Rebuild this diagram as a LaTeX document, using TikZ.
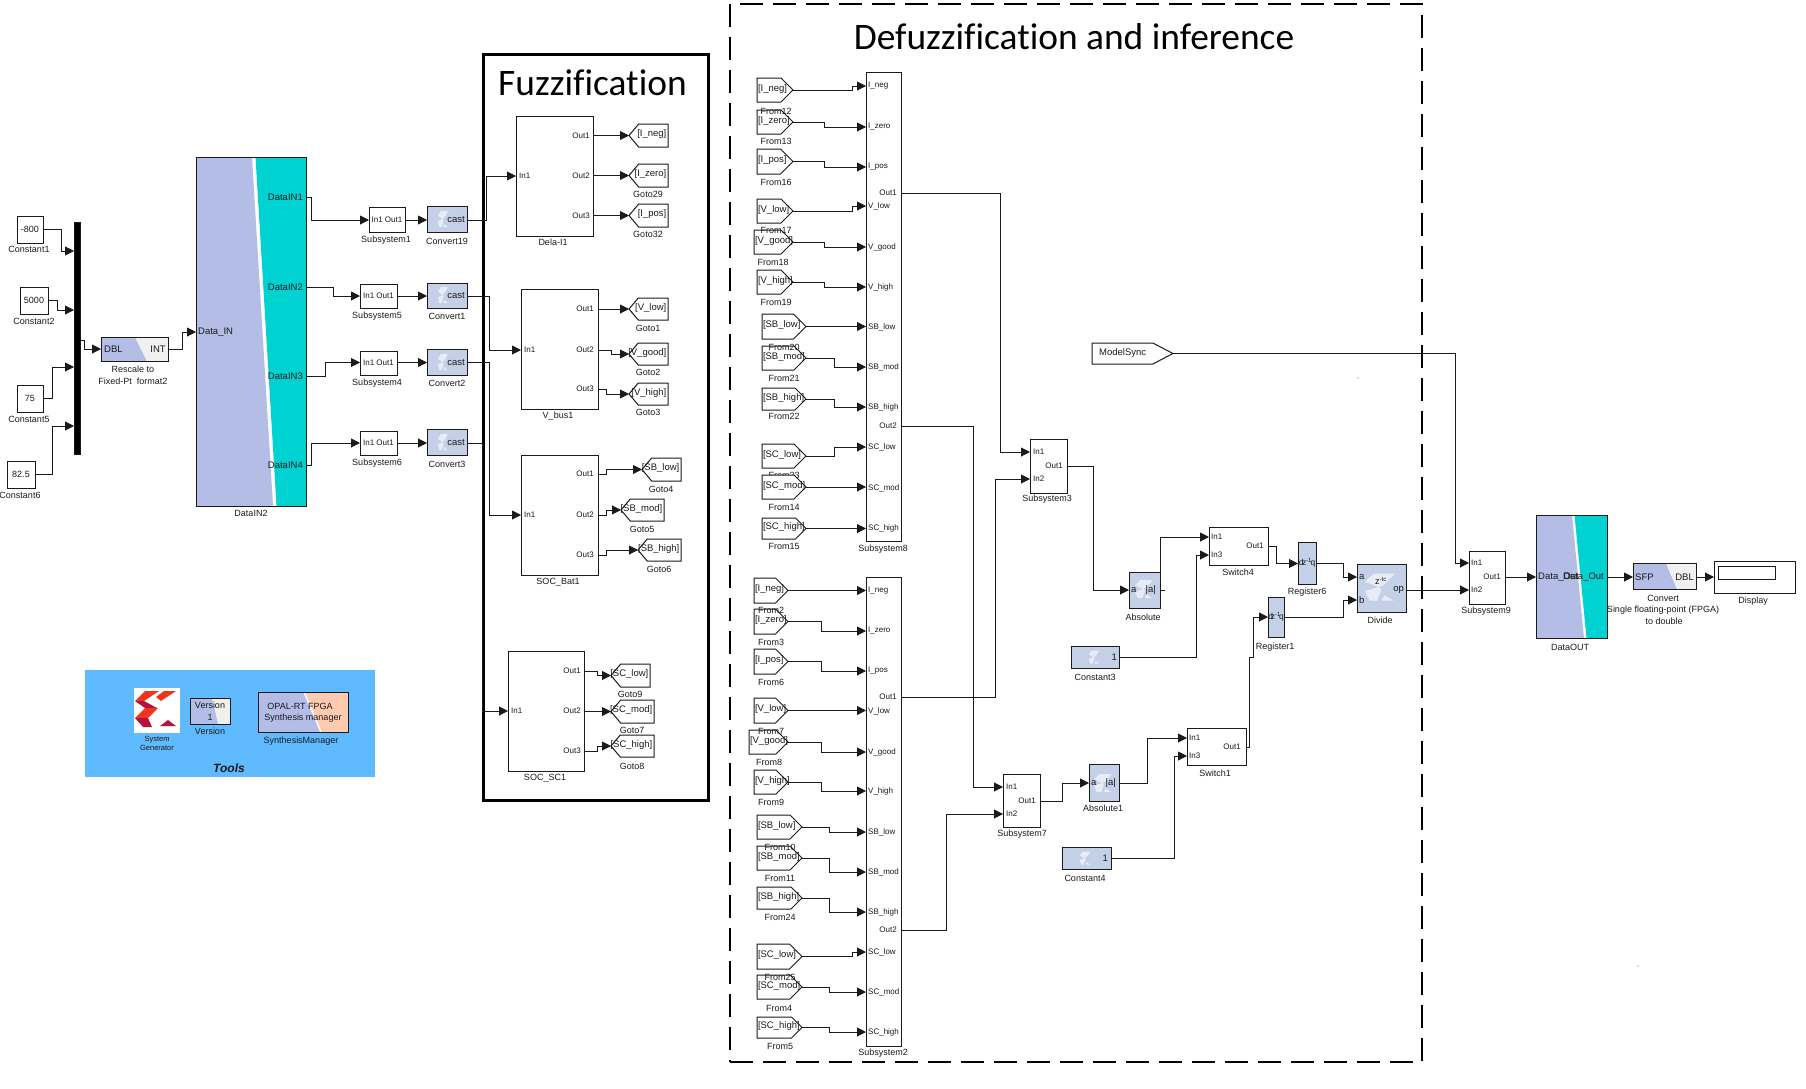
\documentclass[tikz,border=0pt]{standalone}
\usepackage{fontspec}
\setmainfont{Liberation Sans}
\newfontfamily\titlefont[Ligatures=NoCommon]{Carlito}
\usetikzlibrary{arrows.meta,shapes.symbols}
\definecolor{purp}{HTML}{B3BDE6}
\definecolor{teal2}{HTML}{00D2D2}
\definecolor{xblue}{HTML}{C4D0E8}
\definecolor{xlight}{HTML}{E8ECF6}
\definecolor{lgrey}{HTML}{F0F0F0}
\definecolor{peach}{HTML}{FFCBB0}
\definecolor{toolsb}{HTML}{5FBAFF}
\definecolor{ink}{HTML}{1A1A1A}
\definecolor{xred}{HTML}{F0351E}
\definecolor{xdark}{HTML}{B3123C}
\tikzset{
  x=1pt,y=-1pt,
  box/.style={draw=ink,line width=1pt,inner sep=0pt,outer sep=0pt,text=ink,font=\fontsize{9}{10}\selectfont},
  xbox/.style={box,fill=xblue},
  wbox/.style={box,fill=white},
  fromb/.style={signal,signal to=east,signal pointer angle=90,draw=ink,line width=1pt,inner sep=0pt,outer sep=0pt,anchor=west},
  gotob/.style={signal,signal to=west,signal pointer angle=100,draw=ink,line width=1pt,inner sep=0pt,outer sep=0pt,anchor=east},
  wire/.style={draw=ink,line width=0.9pt,-{Triangle[length=9pt,width=9pt]}},
  plain/.style={draw=ink,line width=0.9pt},
  capt/.style={inner sep=0pt,text=ink,font=\fontsize{9}{10}\selectfont},
  portl/.style={inner sep=0pt,anchor=west,text=ink,font=\fontsize{8}{9}\selectfont},
  portr/.style={inner sep=0pt,anchor=east,text=ink,font=\fontsize{8}{9}\selectfont},
  sigl/.style={inner sep=0pt,text=ink,font=\fontsize{9.5}{10}\selectfont},
}
\newcounter{lbl}
\newcommand{\CapT}[3]{\stepcounter{lbl}\node[capt] (c\arabic{lbl}) at (#1,#2) {#3};}
\newcommand{\PL}[3]{\stepcounter{lbl}\node[portl] (c\arabic{lbl}) at (#1,#2) {#3};}
\newcommand{\PR}[3]{\stepcounter{lbl}\node[portr] (c\arabic{lbl}) at (#1,#2) {#3};}
\newcommand{\SL}[3]{\stepcounter{lbl}\node[sigl,anchor=west] (c\arabic{lbl}) at (#1,#2) {#3};}
\newcommand{\SR}[3]{\stepcounter{lbl}\node[sigl,anchor=east] (c\arabic{lbl}) at (#1,#2) {#3};}
% \Blk{style}{name}{x1}{y1}{x2}{y2}{text}
\newcommand{\Blk}[7]{\pgfmathsetmacro\bw{#5-#3}\pgfmathsetmacro\bh{#6-#4}\pgfmathsetmacro\bx{(#3+#5)/2}\pgfmathsetmacro\by{(#4+#6)/2}%
  \node[#1,minimum width=\bw pt,minimum height=\bh pt] (#2) at (\bx,\by) {#7};}
\newcommand{\FB}[7][]{\FromBx{#1}{#2}{#3}{#4}{#5}{#6}{#7}}
\newcommand{\FromBx}[7]{\pgfmathsetmacro\bw{#5-#3}\pgfmathsetmacro\bh{#6-#4}\pgfmathsetmacro\by{(#4+#6)/2}%
  \node[fromb,#1,minimum width=\bw pt,minimum height=\bh pt] (#2) at (#3,\by) {};
  \pgfmathsetmacro\tx{#3+0.8}\pgfmathsetmacro\ty{\by-1}\SL{\tx}{\ty}{#7}}
\newcommand{\GB}[6]{\pgfmathsetmacro\bw{#4-#2}\pgfmathsetmacro\bh{#5-#3}\pgfmathsetmacro\by{(#3+#5)/2}%
  \node[gotob,minimum width=\bw pt,minimum height=\bh pt] (#1) at (#4,\by) {};
  \pgfmathsetmacro\tx{#4-1.5}\pgfmathsetmacro\ty{\by-1}\SR{\tx}{\ty}{#6}}
% wires
\newcommand{\Ws}[3]{\draw[wire] (#1 |- 0,#2) -- (#3 |- 0,#2);}
\newcommand{\Wz}[5]{\draw[wire] (#1 |- 0,#2) -- (#3,#2) -- (#3,#5) -- (#4 |- 0,#5);}
% slanted block background
\newcommand{\SlantF}[8]{\fill[purp] (#1,#2) -- (#5,#2) -- (#6,#4) -- (#1,#4) -- cycle;
  \pgfmathsetmacro\xaa{#5+#7}\pgfmathsetmacro\xbb{#6+#7}%
  \fill[#8] (\xaa,#2) -- (#3,#2) -- (#3,#4) -- (\xbb,#4) -- cycle;}
% xilinx light logo: cx cy hw hh
\newcommand{\XL}[4]{\begin{scope}[shift={(#1,#2)},x=#3pt,y=-#4pt]
  \fill[xlight] (-0.4,-1) -- (1,-1) -- (0.2,-0.1) -- (-0.1,0) -- (-1,-0.4) -- cycle;
  \fill[xlight] (-1,0.3) -- (-0.1,0) -- (0.1,0.2) -- (-0.2,1) -- (-0.7,1) -- cycle;
  \fill[xlight] (0.3,0.6) -- (0.9,1) -- (0.1,1) -- cycle;
\end{scope}}
\begin{document}
\begin{tikzpicture}
\useasboundingbox (0,0) rectangle (1806,1088);

% ---------- frames
\node[draw=black,line width=3pt,minimum width=225pt,minimum height=746pt,inner sep=0pt,outer sep=0pt] (fuzzframe) at (595.5,427) {};
\node[draw=black,line width=2.9pt,dash pattern=on 23pt off 10pt,minimum width=692pt,minimum height=1058pt,inner sep=0pt,outer sep=0pt] (defframe) at (1076,533) {};
\node[inner sep=0pt,font=\titlefont\fontsize{37.4}{40}\selectfont] (fuzztitle) at (592.5,83) {Fuzzification};
\node[inner sep=0pt,font=\titlefont\fontsize{37.4}{42}\selectfont] (deftitle) at (1074,37) {Defuzzification and inference};

% ---------- left input part
\Blk{wbox}{k1}{17}{216}{43}{243}{-800}\CapT{29}{249}{Constant1}
\Blk{wbox}{k2}{20}{287}{48}{314}{5000}\CapT{34}{321}{Constant2}
\Blk{wbox}{k5}{17}{385}{43}{412}{75}\CapT{29}{419}{Constant5}
\Blk{wbox}{k6}{7}{461}{35}{488}{82.5}\CapT{20}{495}{Constant6}
\Blk{box,fill=black}{bus}{74}{222}{80}{454}{}
\Wz{k1.east}{229.5}{61.5}{bus.west}{251}
\Wz{k2.east}{300.5}{57}{bus.west}{310}
\Wz{k5.east}{398.5}{52}{bus.west}{367}
\Wz{k6.east}{474.5}{52}{bus.west}{426}

\SlantF{101}{337}{168}{361}{135}{147}{0}{lgrey}
\Blk{box}{resc}{101}{337}{168}{361}{}
\SL{104}{349}{DBL}\SR{166}{349}{INT}
\CapT{133}{369}{Rescale to}\CapT{133}{381}{Fixed-Pt\ \ format2}
\Wz{bus.east}{340}{84}{resc.west}{349}

\fill[white] (196,157) rectangle (306,506);
\SlantF{196}{157}{306}{506}{252}{273}{3.5}{teal2}
\Blk{box}{din}{196}{157}{306}{506}{}
\SL{198}{332}{Data\_IN}
\SR{303}{197}{DataIN1}\SR{303}{287}{DataIN2}\SR{303}{376}{DataIN3}\SR{303}{465}{DataIN4}
\CapT{251}{513}{DataIN2}
\Wz{resc.east}{349}{182}{din.west}{332}

% subsystems + convert
\Blk{wbox}{s1}{369}{207}{405}{232}{\fontsize{8}{9}\selectfont In1 Out1}\CapT{386}{240}{Subsystem1}
\Blk{wbox}{s5}{360}{284}{397}{308}{\fontsize{8}{9}\selectfont In1 Out1}\CapT{377}{316}{Subsystem5}
\Blk{wbox}{s4}{360}{351}{397}{375}{\fontsize{8}{9}\selectfont In1 Out1}\CapT{377}{383}{Subsystem4}
\Blk{wbox}{s6}{360}{431}{397}{455}{\fontsize{8}{9}\selectfont In1 Out1}\CapT{377}{463}{Subsystem6}
\Blk{xbox}{cv19}{427}{206}{467}{232}{}\XL{443}{219}{5}{8}\SR{465}{219}{cast}\CapT{447}{241}{Convert19}
\Blk{xbox}{cv1}{427}{283}{467}{308}{}\XL{443}{295}{5}{8}\SR{465}{295}{cast}\CapT{447}{316}{Convert1}
\Blk{xbox}{cv2}{427}{349}{467}{375}{}\XL{443}{362}{5}{8}\SR{465}{362}{cast}\CapT{447}{383}{Convert2}
\Blk{xbox}{cv3}{427}{429}{467}{455}{}\XL{443}{442}{5}{8}\SR{465}{442}{cast}\CapT{447}{464}{Convert3}
\Wz{din.east}{197.5}{311}{s1.west}{220}
\Wz{din.east}{287}{333}{s5.west}{296}
\Wz{din.east}{376}{325}{s4.west}{362.5}
\Wz{din.east}{465}{311}{s6.west}{443}
\Ws{s1.east}{220}{cv19.west}
\Ws{s5.east}{296}{cv1.west}
\Ws{s4.east}{362.5}{cv2.west}
\Ws{s6.east}{443}{cv3.west}

% ---------- fuzzification blocks
\Blk{wbox}{delta}{516}{116}{593}{236}{}\PL{519}{176}{In1}\PR{590}{136}{Out1}\PR{590}{176}{Out2}\PR{590}{216}{Out3}\CapT{553}{242}{Dela-I1}
\Blk{wbox}{vbus}{521}{289}{598}{409}{}\PL{524}{350}{In1}\PR{594}{309}{Out1}\PR{594}{350}{Out2}\PR{594}{389}{Out3}\CapT{558}{416}{V\_bus1}
\Blk{wbox}{sbat}{521}{455}{598}{575}{}\PL{524}{515}{In1}\PR{594}{474}{Out1}\PR{594}{515}{Out2}\PR{594}{555}{Out3}\CapT{558}{582}{SOC\_Bat1}
\Blk{wbox}{ssc}{508}{651}{584}{771}{}\PL{511}{711}{In1}\PR{581}{671}{Out1}\PR{581}{711}{Out2}\PR{581}{751}{Out3}\CapT{545}{778}{SOC\_SC1}
\Wz{cv19.east}{220}{486}{delta.west}{176}
\Wz{cv1.east}{296}{489}{vbus.west}{350}
\Wz{cv2.east}{362.5}{489}{sbat.west}{515}
\Wz{cv3.east}{443}{482}{ssc.west}{711}

\GB{g1}{629}{124}{668}{147}{[I\_neg]}
\GB{g29}{629}{164}{668}{187}{[I\_zero]}\CapT{648}{194}{Goto29}
\GB{g32}{629}{204}{668}{227}{[I\_pos]}\CapT{648}{234}{Goto32}
\GB{g2a}{629}{298}{668}{320}{[V\_low]}\CapT{648}{328}{Goto1}
\GB{g2b}{629}{343}{668}{365}{[V\_good]}\CapT{648}{372}{Goto2}
\GB{g3}{629}{383}{668}{405}{[V\_high]}\CapT{648}{412}{Goto3}
\GB{g4}{642}{458}{681}{481}{[SB\_low]}\CapT{661}{489}{Goto4}
\GB{g5}{621}{499}{664}{521}{[SB\_mod]}\CapT{642}{529}{Goto5}
\GB{g6}{638}{539}{681}{561}{[SB\_high]}\CapT{659}{569}{Goto6}
\GB{g9}{611}{664}{650}{687}{[SC\_low]}\CapT{630}{694}{Goto9}
\GB{g7}{611}{700}{654}{723}{[SC\_mod]}\CapT{632}{730}{Goto7}
\GB{g8}{611}{735}{654}{757}{[SC\_high]}\CapT{632}{766}{Goto8}
\Ws{delta.east}{135.5}{g1.west}
\Ws{delta.east}{175.5}{g29.west}
\Ws{delta.east}{215.5}{g32.west}
\Ws{vbus.east}{309}{g2a.west}
\Wz{vbus.east}{350}{611}{g2b.west}{354}
\Wz{vbus.east}{389}{606}{g3.west}{394}
\Wz{sbat.east}{474}{606}{g4.west}{469.5}
\Wz{sbat.east}{515}{606}{g5.west}{510}
\Wz{sbat.east}{555}{606}{g6.west}{550}
\Wz{ssc.east}{671}{597}{g9.west}{675.5}
\Ws{ssc.east}{711.5}{g7.west}
\Wz{ssc.east}{751}{597}{g8.west}{746}

% ---------- subsystem8
\Blk{wbox}{s8}{866}{72}{901}{541}{}\CapT{883}{549}{Subsystem8}
\PL{868}{86}{I\_neg}\PL{868}{127}{I\_zero}\PL{868}{167}{I\_pos}\PL{868}{206}{V\_low}\PL{868}{247}{V\_good}\PL{868}{287}{V\_high}
\PL{868}{327}{SB\_low}\PL{868}{367}{SB\_mod}\PL{868}{407}{SB\_high}\PL{868}{447}{SC\_low}\PL{868}{488}{SC\_mod}\PL{868}{528}{SC\_high}
\PR{897}{193}{Out1}\PR{897}{426}{Out2}
\FB{f12}{757}{78}{793}{102}{[I\_neg]}\CapT{776}{111}{From12}
\FB{f13}{757}{110}{793}{134}{[I\_zero]}\CapT{776}{141}{From13}
\FB{f16}{757}{149}{793}{174}{[I\_pos]}\CapT{776}{182}{From16}
\FB{f17}{757}{199}{793}{223}{[V\_low]}\CapT{776}{230}{From17}
\FB{f18}{754}{230}{793}{254}{[V\_good]}\CapT{773}{262}{From18}
\FB{f19}{757}{270}{793}{294}{[V\_high]}\CapT{776}{302}{From19}
\FB{f20}{762}{314}{806}{339}{[SB\_low]}\CapT{784}{347}{From20}
\FB{f21}{762}{346}{806}{370}{[SB\_mod]}\CapT{784}{378}{From21}
\FB{f22}{762}{388}{806}{410}{[SB\_high]}\CapT{784}{416}{From22}
\FB{f23}{762}{444}{806}{468}{[SC\_low]}\CapT{784}{475}{From23}
\FB[fill=white]{f14}{762}{475}{806}{499}{[SC\_mod]}\CapT{784}{507}{From14}
\FB{f15}{762}{518}{806}{539}{[SC\_high]}\CapT{784}{546}{From15}
\Wz{f12.east}{90}{852}{s8.west}{86}
\Wz{f13.east}{122}{824}{s8.west}{127}
\Wz{f16.east}{161.5}{824}{s8.west}{167}
\Wz{f17.east}{211}{852}{s8.west}{206}
\Wz{f18.east}{242}{824}{s8.west}{247}
\Wz{f19.east}{282}{824}{s8.west}{287}
\Ws{f20.east}{326.5}{s8.west}
\Wz{f21.east}{358}{834}{s8.west}{367}
\Wz{f22.east}{399}{834}{s8.west}{407}
\Wz{f23.east}{456}{834}{s8.west}{447}
\Ws{f14.east}{487}{s8.west}
\Ws{f15.east}{528.5}{s8.west}

% ---------- subsystem2
\Blk{wbox}{s2}{866}{577}{901}{1046}{}\CapT{883}{1053}{Subsystem2}
\PL{868}{591}{I\_neg}\PL{868}{631}{I\_zero}\PL{868}{671}{I\_pos}\PL{868}{711}{V\_low}\PL{868}{752}{V\_good}\PL{868}{791}{V\_high}
\PL{868}{832}{SB\_low}\PL{868}{872}{SB\_mod}\PL{868}{912}{SB\_high}\PL{868}{952}{SC\_low}\PL{868}{992}{SC\_mod}\PL{868}{1032}{SC\_high}
\PR{897}{697}{Out1}\PR{897}{930}{Out2}
\FB{f2}{754}{578}{788}{603}{[I\_neg]}\CapT{771}{610}{From2}
\FB{f3}{754}{609}{788}{634}{[I\_zero]}\CapT{771}{642}{From3}
\FB{f6}{754}{649}{788}{674}{[I\_pos]}\CapT{771}{682}{From6}
\FB{f7}{754}{698}{788}{723}{[V\_low]}\CapT{771}{731}{From7}
\FB{f8}{749}{730}{788}{754}{[V\_good]}\CapT{769}{762}{From8}
\FB{f9}{754}{770}{788}{794}{[V\_high]}\CapT{771}{802}{From9}
\FB{f10}{757}{815}{802}{839}{[SB\_low]}\CapT{780}{847}{From10}
\FB{f11}{757}{846}{802}{870}{[SB\_mod]}\CapT{780}{878}{From11}
\FB{f24}{757}{887}{802}{909}{[SB\_high]}\CapT{780}{917}{From24}
\FB{f25}{757}{944}{802}{969}{[SC\_low]}\CapT{780}{977}{From25}
\FB{f4}{757}{975}{802}{999}{[SC\_mod]}\CapT{779}{1008}{From4}
\FB{f5}{757}{1017}{802}{1038}{[SC\_high]}\CapT{780}{1046}{From5}
\Ws{f2.east}{590.5}{s2.west}
\Wz{f3.east}{621.5}{821}{s2.west}{631}
\Wz{f6.east}{661.5}{821}{s2.west}{671}
\Ws{f7.east}{710.5}{s2.west}
\Wz{f8.east}{742}{821}{s2.west}{752}
\Wz{f9.east}{782}{821}{s2.west}{791}
\Wz{f10.east}{827}{829}{s2.west}{832}
\Wz{f11.east}{858}{829}{s2.west}{872}
\Wz{f24.east}{898}{829}{s2.west}{912}
\Wz{f25.east}{956.5}{852}{s2.west}{952}
\Wz{f4.east}{987}{829}{s2.west}{992}
\Wz{f5.east}{1027.5}{829}{s2.west}{1032}

% ---------- right side
\Blk{wbox}{s3}{1030}{439}{1067}{493}{}\PL{1033}{452}{In1}\PL{1033}{479}{In2}\PR{1063}{466}{Out1}\CapT{1047}{499}{Subsystem3}
\Blk{wbox}{s7}{1003}{774}{1040}{827}{}\PL{1006}{787}{In1}\PL{1006}{814}{In2}\PR{1036}{801}{Out1}\CapT{1022}{834}{Subsystem7}
\Wz{s8.east}{193}{1000}{s3.west}{452}
\Wz{s2.east}{697}{995}{s3.west}{479}
\Wz{s8.east}{426}{973}{s7.west}{787}
\Wz{s2.east}{930}{946}{s7.west}{814}

\Blk{xbox}{abs}{1129}{572}{1160}{608}{}\XL{1144}{589}{9}{9}\SL{1131}{590}{a}\SR{1156}{590}{|a|}\CapT{1143}{617}{Absolute}
\Blk{xbox}{abso}{1089}{764}{1119}{801}{}\XL{1103}{783}{9}{9}\SL{1091}{783}{a}\SR{1116}{783}{|a|}\CapT{1103}{808}{Absolute1}
\Blk{wbox}{sw4}{1209}{527}{1268}{565}{}\PL{1211}{537}{In1}\PL{1211}{555}{In3}\PR{1264}{546}{Out1}\CapT{1238}{572}{Switch4}
\Blk{wbox}{sw1}{1187}{728}{1246}{765}{}\PL{1189}{738}{In1}\PL{1189}{756}{In3}\PR{1241}{747}{Out1}\CapT{1215}{773}{Switch1}
\Blk{xbox}{k3}{1071}{646}{1119}{668}{}\XL{1094}{657}{5.5}{6.5}\SR{1117}{657}{1}\CapT{1095}{677}{Constant3}
\Blk{xbox}{k4}{1062}{847}{1111}{869}{}\XL{1085}{858}{5.5}{6.5}\SR{1108}{858}{1}\CapT{1085}{878}{Constant4}
\Blk{xbox}{reg6}{1298}{542}{1316}{584}{\fontsize{8.5}{9}\selectfont d\kern-1.5pt z\textsuperscript{-1}\kern-1.5pt q}\CapT{1307}{592}{Register6}
\Blk{xbox}{reg1}{1268}{597}{1284}{637}{\fontsize{8.5}{9}\selectfont d\kern-2pt z\textsuperscript{-1}\kern-2pt q}\CapT{1275}{647}{Register1}
\Blk{xbox}{divb}{1357}{564}{1406}{612}{}\XL{1380}{587}{15}{13.5}\SL{1359}{577}{a}\SL{1359}{600}{b}\SR{1404}{590}{op}\CapT{1381}{581}{z\textsuperscript{-tc}}\CapT{1380}{620}{Divide}
\Blk{wbox}{s9}{1469}{551}{1505}{604}{}\PL{1471}{563}{In1}\PL{1471}{590}{In2}\PR{1501}{577}{Out1}\CapT{1486}{611}{Subsystem9}

\Wz{s3.east}{466}{1093}{abs.west}{590}
\draw[plain] (abs.east) -- (1165,590);
\draw[wire] (abs.east) -- (1160,537) -- (sw4.west |- 0,537);
\Wz{k3.east}{657}{1196}{sw4.west}{555}
\Wz{sw4.east}{546}{1276}{reg6.west}{563.5}
\Wz{reg6.east}{563.5}{1343}{divb.west}{577}
\Wz{reg1.east}{617}{1343}{divb.west}{600}
\Wz{s7.east}{801}{1062}{abso.west}{783}
\Wz{abso.east}{783}{1147}{sw1.west}{738}
\Wz{k4.east}{858}{1174}{sw1.west}{756}
\draw[wire] (sw1.east |- 0,747) -- (1249,747) -- (1249,657) -- (1253,657) -- (1253,617) -- (reg1.west |- 0,617);
\Ws{divb.east}{590}{s9.west}

\node[fromb,signal pointer angle=55,minimum width=81pt,minimum height=21pt] (msync) at (1092,353.5) {};
\SL{1099}{353}{ModelSync}
\Wz{msync.east}{353.5}{1455}{s9.west}{563}

% DataOUT
\fill[white] (1536,515) rectangle (1607,638);
\SlantF{1536}{515}{1607}{638}{1572}{1584}{2.5}{teal2}
\Blk{box}{dout}{1536}{515}{1607}{638}{}
\SL{1538}{577}{Data\_Out}\SR{1604}{577}{Data\_Out}\CapT{1570}{647}{DataOUT}
\Ws{s9.east}{577}{dout.west}
\SlantF{1633}{563}{1696}{589}{1666}{1677}{0}{lgrey}
\Blk{box}{conv}{1633}{563}{1696}{589}{}
\SL{1635}{577}{SFP}\SR{1694}{577}{DBL}
\CapT{1663}{598}{Convert}\CapT{1663}{610}{Single floating-point (FPGA)}\CapT{1664}{621}{to double}
\Ws{dout.east}{577}{conv.west}
\Blk{wbox}{disp}{1714}{561}{1795}{593}{}
\Blk{box}{dispin}{1718}{566}{1775}{579}{}
\CapT{1753}{601}{Display}
\Ws{conv.east}{577}{disp.west}

% Tools
\fill[toolsb] (85,670) rectangle (375,777);
\fill[white] (134,688) rectangle (180,733);
\fill[xred] (145,691) -- (159,691) -- (144,701) -- (135,701) -- cycle;
\fill[xdark] (135,701) -- (144,701) -- (157,708) -- (145,708) -- cycle;
\fill[xred] (145,708) -- (158,708) -- (148,718) -- (135,718) -- cycle;
\fill[xdark] (135,718) -- (148,718) -- (152,727) -- (143,727) -- cycle;
\fill[xred] (161,701) -- (176,691) -- (164,691) -- (156,697) -- cycle;
\fill[xdark] (160,726) -- (168,720) -- (176,726) -- cycle;
\node[inner sep=0pt,text=ink,font=\fontsize{7.5}{8}\selectfont] (tsys1) at (157,740) {System};
\node[inner sep=0pt,text=ink,font=\fontsize{7.5}{8}\selectfont] (tsys2) at (157,748) {Generator};
\SlantF{190}{698}{230}{724}{212}{218}{0}{lgrey}
\Blk{box}{verb}{190}{698}{230}{724}{}
\CapT{210}{705}{Version}\CapT{210}{717}{1}\CapT{210}{731}{Version}
\fill[white] (258,692) rectangle (348,732);
\SlantF{258}{692}{348}{732}{303}{320}{2}{peach}
\Blk{box}{synb}{258}{692}{348}{732}{}
\CapT{300}{706}{OPAL-RT FPGA}\CapT{303}{718}{Synthesis manager}\CapT{301}{741}{SynthesisManager}
\node[inner sep=0pt,text=ink,font=\bfseries\itshape\fontsize{12}{13}\selectfont] (tools) at (229,768) {Tools};

% specks
\fill[ink!70] (1358,378) circle (0.7);
\fill[ink!70] (1638,966) circle (0.7);
\end{tikzpicture}
\end{document}
